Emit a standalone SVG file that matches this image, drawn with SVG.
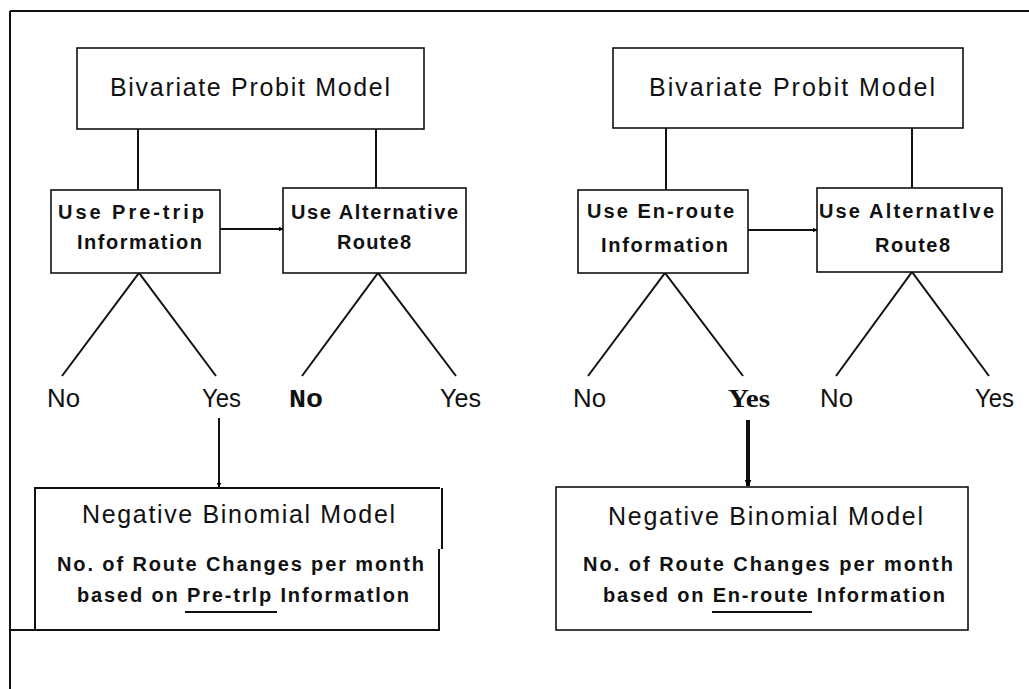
<svg xmlns="http://www.w3.org/2000/svg" width="1029" height="689" viewBox="0 0 1029 689">
<defs>
<marker id="ah" viewBox="0 0 10 10" refX="9" refY="5" markerWidth="5" markerHeight="5" orient="auto" markerUnits="userSpaceOnUse"><path d="M0,0 L10,5 L0,10 z" fill="#000"/></marker>
<marker id="ah2" viewBox="0 0 10 10" refX="9" refY="5" markerWidth="7" markerHeight="7" orient="auto" markerUnits="userSpaceOnUse"><path d="M0,0 L10,5 L0,10 z" fill="#000"/></marker>
</defs>
<style>
.box{fill:#fff;stroke:#111;stroke-width:1.6}
.ln{stroke:#111;stroke-width:2;fill:none}
.big{font-family:"Liberation Sans",Arial,sans-serif;font-size:25px;fill:#111}
.bold{font-family:"Liberation Sans",Arial,sans-serif;font-size:20px;font-weight:bold;fill:#111}
.bold2{font-family:"Liberation Sans",Arial,sans-serif;font-size:20px;font-weight:bold;fill:#111}
.lab{font-family:"Liberation Sans",Arial,sans-serif;font-size:25px;fill:#111}
</style>
<rect width="1029" height="689" fill="#fff"/>
<g id="frame" class="ln">
<line x1="10" y1="11" x2="1029" y2="11"/>
<line x1="10" y1="11" x2="10" y2="689"/>
</g>
<g id="connectors" class="ln">
<line x1="138" y1="129" x2="138" y2="190"/>
<line x1="376" y1="129" x2="376" y2="188"/>
<line x1="666" y1="128" x2="666" y2="190"/>
<line x1="912" y1="128" x2="912" y2="188"/>
<line x1="220" y1="229" x2="283" y2="229" marker-end="url(#ah)"/>
<line x1="748" y1="230" x2="817" y2="230" marker-end="url(#ah)"/>
<polyline points="62,376 139,273 216,376"/>
<polyline points="302,376 378,273 456,376"/>
<polyline points="588,376 665,273 743,376"/>
<polyline points="836,376 912,272 989,376"/>
<line x1="219" y1="418" x2="219" y2="487" marker-end="url(#ah)"/>
<line x1="748" y1="420" x2="748" y2="486" stroke-width="4" marker-end="url(#ah2)"/>
</g>
<g id="probit-left">
<rect class="box" x="77" y="48" width="347" height="81"/>
<text class="big" x="110" y="96" textLength="280" lengthAdjust="spacing">Bivariate Probit Model</text>
</g>
<g id="probit-right">
<rect class="box" x="613" y="48" width="350" height="80"/>
<text class="big" x="649" y="96" textLength="286" lengthAdjust="spacing">Bivariate Probit Model</text>
</g>
<g id="pretrip">
<rect class="box" x="51" y="190" width="169" height="83"/>
<text class="bold" x="58" y="219" textLength="146" lengthAdjust="spacing">Use Pre-trip</text>
<text class="bold" x="77" y="249" textLength="125" lengthAdjust="spacing">Information</text>
</g>
<g id="alt-left">
<rect class="box" x="283" y="188" width="183" height="85"/>
<text class="bold" x="291" y="219" textLength="167" lengthAdjust="spacing">Use Alternative</text>
<text class="bold" x="337" y="249" textLength="74" lengthAdjust="spacing">Route8</text>
</g>
<g id="enroute">
<rect class="box" x="578" y="190" width="170" height="83"/>
<text class="bold" x="587" y="218" textLength="147" lengthAdjust="spacing">Use En-route</text>
<text class="bold" x="601" y="252" textLength="127" lengthAdjust="spacing">Information</text>
</g>
<g id="alt-right">
<rect class="box" x="817" y="188" width="185" height="84"/>
<text class="bold" x="819" y="218" textLength="175" lengthAdjust="spacing">Use Alternatlve</text>
<text class="bold" x="875" y="252" textLength="75" lengthAdjust="spacing">Route8</text>
</g>
<g id="labels">
<text class="lab" x="47" y="407" textLength="33" lengthAdjust="spacingAndGlyphs">No</text>
<text class="lab" x="202" y="407" textLength="39" lengthAdjust="spacingAndGlyphs">Yes</text>
<text x="289" y="407" font-family="'Liberation Mono',monospace" font-size="25" font-weight="bold" fill="#111" textLength="34" lengthAdjust="spacingAndGlyphs">No</text>
<text class="lab" x="440" y="407" textLength="41" lengthAdjust="spacingAndGlyphs">Yes</text>
<text class="lab" x="573" y="407" textLength="33" lengthAdjust="spacingAndGlyphs">No</text>
<text x="728" y="407" font-family="'Liberation Serif',serif" font-size="25" font-weight="bold" fill="#111" textLength="42" lengthAdjust="spacingAndGlyphs">Yes</text>
<text class="lab" x="820" y="407" textLength="33" lengthAdjust="spacingAndGlyphs">No</text>
<text class="lab" x="975" y="407" textLength="39" lengthAdjust="spacingAndGlyphs">Yes</text>
</g>
<g id="negbin-left">
<polyline class="ln" points="35,630 35,488 440,488" stroke-width="1.6"/>
<line class="ln" x1="442" y1="488" x2="442" y2="549" stroke-width="2.6"/>
<line class="ln" x1="439" y1="549" x2="439" y2="630" stroke-width="1.6"/>
<line class="ln" x1="10" y1="630" x2="440" y2="630" stroke-width="1.6"/>
<text class="big" x="82" y="523" textLength="313" lengthAdjust="spacing">Negative Binomial Model</text>
<text class="bold2" x="57" y="571" textLength="367" lengthAdjust="spacing">No. of Route Changes per month</text>
<text class="bold2" x="77" y="602" textLength="332" lengthAdjust="spacing">based on Pre-trlp Informatlon</text>
<line class="ln" x1="185" y1="612" x2="277" y2="612" stroke-width="2.2"/>
</g>
<g id="negbin-right">
<rect class="box" x="556" y="487" width="412" height="143"/>
<text class="big" x="608" y="525" textLength="315" lengthAdjust="spacing">Negative Binomial Model</text>
<text class="bold2" x="583" y="571" textLength="370" lengthAdjust="spacing">No. of Route Changes per month</text>
<text class="bold2" x="603" y="602" textLength="342" lengthAdjust="spacing">based on En-route Information</text>
<line class="ln" x1="712" y1="612" x2="812" y2="612" stroke-width="2.2"/>
</g>
</svg>
